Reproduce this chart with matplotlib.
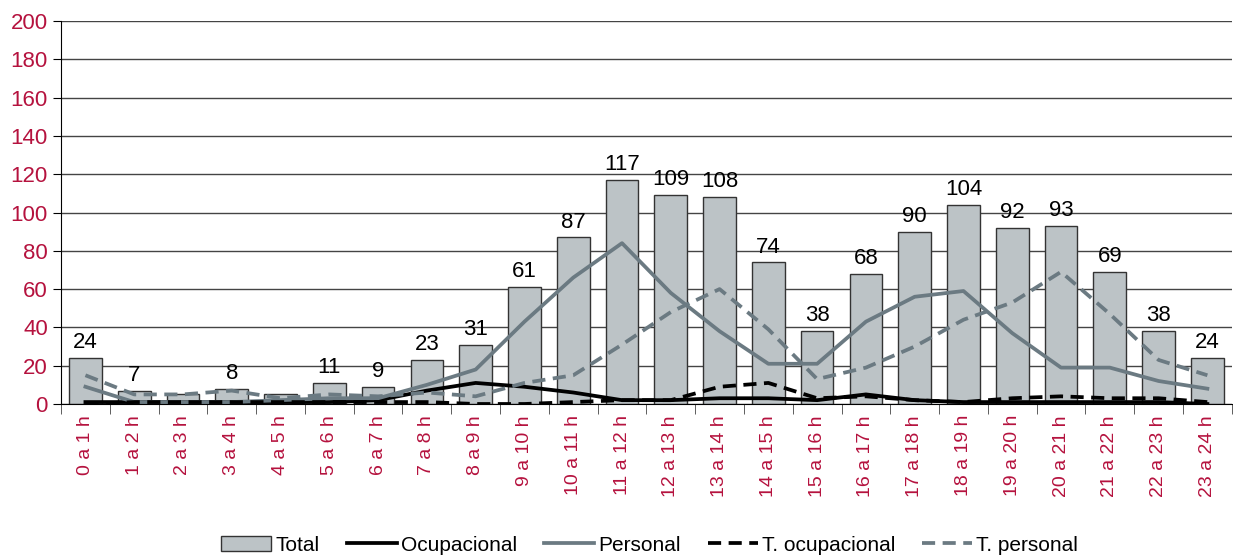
import matplotlib.pyplot as plt
import numpy as np

franjas = ['%d a %d h' % (i, i + 1) for i in range(24)]
total = [24, 7, 5, 8, 5, 11, 9, 23, 31, 61, 87, 117, 109, 108, 74, 38, 68, 90, 104, 92, 93, 69, 38, 24]
etiquetas = [24, 7, None, 8, None, 11, 9, 23, 31, 61, 87, 117, 109, 108, 74, 38, 68, 90, 104, 92, 93, 69, 38, 24]
ocupacional = [1, 1, 1, 1, 1, 1, 2, 7, 11, 9, 6, 2, 2, 3, 3, 2, 5, 2, 1, 1, 1, 1, 1, 0]
personal = [9, 1, 1, 1, 2, 3, 3, 10, 18, 43, 66, 84, 58, 38, 21, 21, 43, 56, 59, 37, 19, 19, 12, 8]
t_ocupacional = [0, 1, 1, 1, 1, 1, 1, 1, 0, 0, 1, 2, 2, 9, 11, 3, 4, 2, 1, 3, 4, 3, 3, 1]
t_personal = [15, 5, 5, 7, 3, 5, 4, 6, 4, 11, 15, 31, 48, 60, 39, 13, 19, 30, 44, 53, 69, 47, 23, 15]

rojo = '#B5123E'
gris = '#6B7A82'
plt.rcParams['font.family'] = ['Liberation Sans', 'DejaVu Sans']

fig = plt.figure(figsize=(12.33, 5.59), dpi=100)
ax = fig.add_axes([0.0495, 0.2773, 0.9495, 0.6851])

x = np.arange(len(franjas))
ax.bar(x, total, width=0.67, color='#BCC3C6', edgecolor='#333333', linewidth=1, label='Total', zorder=2)
ax.plot(x, ocupacional, color='black', lw=2.7, label='Ocupacional', zorder=3)
ax.plot(x, personal, color=gris, lw=2.7, label='Personal', zorder=3)
ax.plot(x, t_ocupacional, color='black', lw=2.7, ls=(0, (3.5, 2)), label='T. ocupacional', zorder=3)
ax.plot(x, t_personal, color=gris, lw=2.7, ls=(0, (3.5, 2)), label='T. personal', zorder=3)

for i, v in enumerate(etiquetas):
    if v is not None:
        ax.text(i, total[i] + 2.5, str(v), ha='center', va='bottom', fontsize=16)

ax.set_ylim(0, 200)
ax.set_xlim(-0.5, 23.5)
ax.set_yticks(range(0, 201, 20))
ax.tick_params(axis='y', labelsize=16, labelcolor=rojo, length=6, color='black')
ax.yaxis.grid(True, color='#444444', lw=1, zorder=0)
ax.set_axisbelow(True)

ax.set_xticks(x)
ax.set_xticklabels(franjas, rotation=90, fontsize=14, color=rojo)
ax.tick_params(axis='x', length=0, pad=8)
ax.set_xticks(np.arange(-0.5, 24, 1), minor=True)
ax.tick_params(axis='x', which='minor', length=7, color='#444444')

for s in ['top', 'right']:
    ax.spines[s].set_visible(False)
ax.spines['left'].set_color('black')
ax.spines['bottom'].set_color('black')

h, l = ax.get_legend_handles_labels()
orden = [4, 0, 1, 2, 3]
fig.legend([h[i] for i in orden], [l[i] for i in orden], loc='center', bbox_to_anchor=(0.527, 0.025),
           ncol=5, frameon=False, fontsize=15, handlelength=2.4, handletextpad=0.2, columnspacing=1.3)

plt.savefig('out.png', dpi=100)
